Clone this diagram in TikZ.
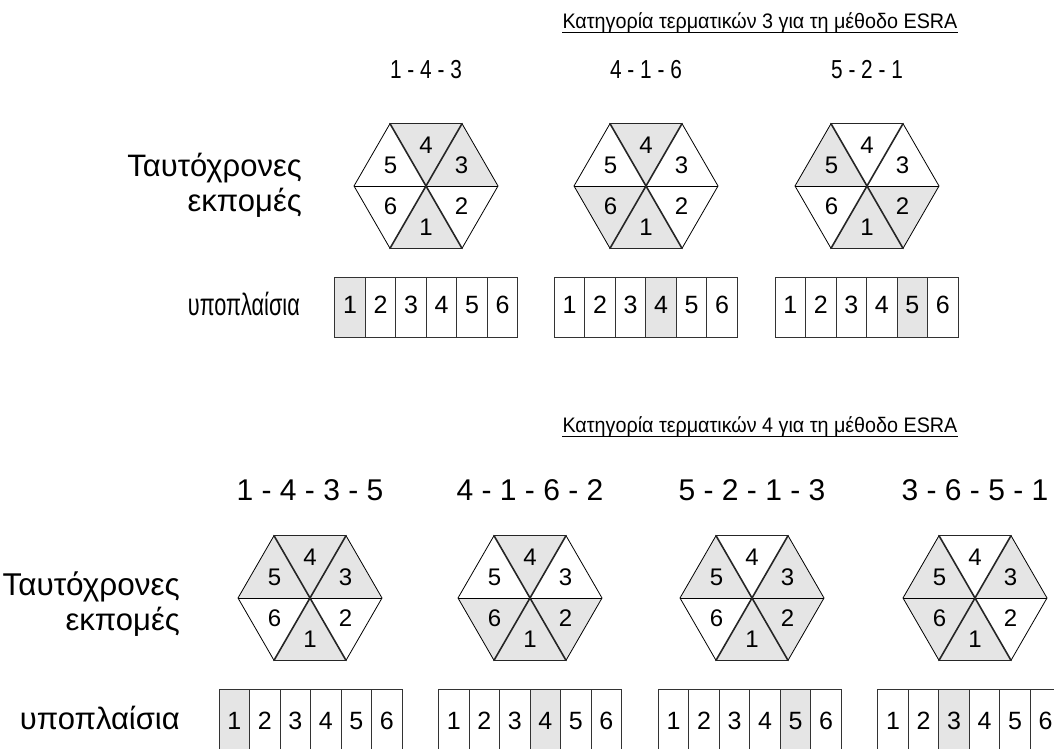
\documentclass[tikz,border=0pt]{standalone}
\usepackage{graphicx}
\usepackage{fontspec}
\setmainfont{Liberation Sans}
\newcommand\fsz[1]{\fontsize{#1}{#1}\selectfont}
\newcommand\narrow[2]{\scalebox{#1}[1]{#2}}
% hexagon of six sectors: #1 centre, #2 shaded sectors, #3 name prefix
\newcommand\sectorhex[3]{%
  \begin{scope}[shift={#1}]
    \foreach \k in {#2} {\fill[shade] (0,0) -- ({60*(2-\k)}:72) -- ({60*(3-\k)}:72) -- cycle;}
    \draw[hexedge] (0:72) -- (60:72) (120:72) -- (180:72) -- (240:72) (300:72) -- (0:72);
    \draw[hexedge] (0:72) -- (180:72);
    \draw[hexcap] (60:72) -- (120:72) (240:72) -- (300:72);
    \draw[spoke] (60:72) -- (240:72) (120:72) -- (300:72);
    \foreach \k in {1,...,6} {\node[hexnum] (#3-\k) at ({60*(2.5-\k)}:41) {\k};}
  \end{scope}}
% row of six sub-frames: #1 left x, #2 top y, #3 shaded cell, #4 name prefix, #5 baseline offset
\newcommand\subframes[5]{%
  \fill[shade] ({#1+30.5*(#3-1)},#2) rectangle ++(30.5,60);
  \foreach \i in {1,...,6} {
    \draw[cell] ({#1+30.5*(\i-1)},#2) rectangle ++(30.5,60);
    \node[boxnum] (#4-\i) at ({#1+30.5*(\i-0.5)},{#2+#5}) {\i};}}
\begin{document}
\begin{tikzpicture}[x=1pt,y=-1pt,
  shade/.style={fill=black!10},
  hexedge/.style={draw=black, line width=0.8pt, line join=round},
  hexcap/.style={draw=black!85, line width=1.3pt, line cap=round},
  spoke/.style={draw=black!85, line width=1.6pt, line cap=round},
  cell/.style={draw=black!80, line width=0.8pt},
  hexnum/.style={font=\fsz{24}, inner sep=0pt},
  boxnum/.style={font=\fsz{25}, inner sep=0pt, anchor=base},
  title/.style={font=\fsz{21}, inner sep=0pt, anchor=base},
  seq/.style={font=\fsz{26}, inner sep=0pt, anchor=base},
  seqb/.style={font=\fsz{30}, inner sep=0pt, anchor=base},
  side/.style={font=\fsz{31}, inner sep=0pt, anchor=base east}]
\useasboundingbox (0,0) rectangle (1054,749);
\fill[white] (0,0) rectangle (1054,749);

% ---- category 3 ----
\node[title] (t3) at (760,28.5) {\narrow{0.94}{Κατηγορία τερματικών 3 για τη μέθοδο ESRA}};
\draw[line width=0.9pt] ([yshift=-4.4pt]t3.base west) -- ([yshift=-4.4pt]t3.base east);

\node[seq] (s31) at (426,79) {\narrow{0.8}{1 - 4 - 3}};
\node[seq] (s32) at (646,79) {\narrow{0.8}{4 - 1 - 6}};
\node[seq] (s33) at (867,79) {\narrow{0.8}{5 - 2 - 1}};

\node[side] (l3a) at (302,176.7) {Ταυτόχρονες};
\node[side] (l3b) at (302,211.7) {εκπομές};
\node[side] (l3c) at (300,315) {\narrow{0.7}{υποπλαίσια}};

\sectorhex{(426,186)}{1,3,4}{h31}
\sectorhex{(646,186)}{1,4,6}{h32}
\sectorhex{(867,186)}{1,2,5}{h33}

\subframes{334.7}{277.5}{1}{b31}{36}
\subframes{554.3}{277.5}{4}{b32}{36}
\subframes{775}{277.5}{5}{b33}{36}

% ---- category 4 ----
\node[title] (t4) at (760,432.5) {\narrow{0.94}{Κατηγορία τερματικών 4 για τη μέθοδο ESRA}};
\draw[line width=0.9pt] ([yshift=-4.4pt]t4.base west) -- ([yshift=-4.4pt]t4.base east);

\node[seqb] (s41) at (310,500) {1 - 4 - 3 - 5};
\node[seqb] (s42) at (530,500) {4 - 1 - 6 - 2};
\node[seqb] (s43) at (752,500) {5 - 2 - 1 - 3};
\node[seqb] (s44) at (975,500) {3 - 6 - 5 - 1};

\node[side, font=\fsz{31.5}] (l4a) at (180,595) {Ταυτόχρονες};
\node[side] (l4b) at (180,630) {εκπομές};
\node[side] (l4c) at (180,729) {υποπλαίσια};

\sectorhex{(310,598)}{1,3,4,5}{h41}
\sectorhex{(530,598)}{1,2,4,6}{h42}
\sectorhex{(752,598)}{1,2,3,5}{h43}
\sectorhex{(975,598)}{1,3,5,6}{h44}

\subframes{219}{689.5}{1}{b41}{40}
\subframes{438.5}{689.5}{4}{b42}{40}
\subframes{658.3}{689.5}{5}{b43}{40}
\subframes{877.8}{689.5}{3}{b44}{40}
\end{tikzpicture}
\end{document}
